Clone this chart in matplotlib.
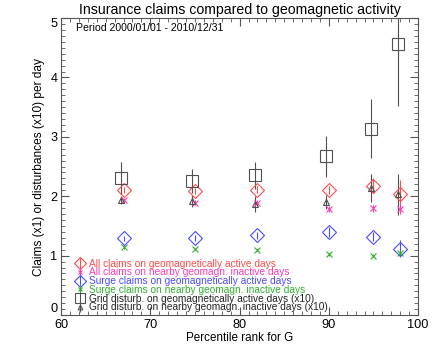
import matplotlib
matplotlib.use('Agg')
import matplotlib.pyplot as plt
from matplotlib.ticker import MultipleLocator

plt.rcParams['font.family'] = ['Liberation Sans', 'DejaVu Sans']

# percentile positions
x_claims = [67, 75, 82, 90, 95, 98]
x_grid = [66.7, 74.7, 81.7, 89.7, 94.7, 97.7]

# all claims, active / inactive days
all_act = [2.11, 2.09, 2.11, 2.11, 2.18, 2.03]
all_act_err = [0.05, 0.05, 0.06, 0.07, 0.13, 0.25]
all_inact = [1.93, 1.89, 1.88, 1.78, 1.80, 1.79]
all_inact_err = [0.04, 0.04, 0.05, 0.05, 0.06, 0.09]

# surge claims
surge_act = [1.29, 1.30, 1.34, 1.40, 1.32, 1.12]
surge_act_err = [0.04, 0.05, 0.06, 0.08, 0.08, 0.15]
surge_inact = [1.14, 1.11, 1.10, 1.02, 1.00, 1.05]
surge_inact_err = [0.02, 0.02, 0.02, 0.02, 0.03, 0.05]

# grid disturbances (x10)
grid_act = [2.30, 2.26, 2.35, 2.67, 3.14, 4.57]
grid_act_err = [0.27, 0.20, 0.22, 0.35, 0.50, 1.05]
grid_inact = [1.94, 1.92, 1.87, 1.90, 2.14, 2.03]
grid_inact_err = [0.07, 0.10, 0.13, 0.12, 0.24, 0.35]

labels = ['All claims on geomagnetically active days',
          'All claims on nearby geomagn. inactive days',
          'Surge claims on geomagnetically active days',
          'Surge claims on nearby geomagn. inactive days',
          'Grid disturb. on geomagnetically active days (x10)',
          'Grid disturb. on nearby geomagn. inactive days (x10)']

c_red = '#ff4a4a'
c_pink = '#ff3cb4'
c_blue = '#4b4bff'
c_green = '#30b030'
c_grid = '#505050'

fig = plt.figure(figsize=(4.36, 3.54), dpi=100)
ax = fig.add_axes([0.14, 0.11, 0.819, 0.839])

kw = dict(linestyle='none', elinewidth=0.8, capsize=0, markerfacecolor='none', markeredgewidth=0.8)
ax.errorbar(x_claims, all_act, yerr=all_act_err, fmt='D', ms=7.5, color=c_red, label=labels[0], **kw)
ax.errorbar(x_claims, all_inact, yerr=all_inact_err, fmt='x', ms=4.5, color=c_pink, label=labels[1], **kw)
ax.errorbar(x_claims, surge_act, yerr=surge_act_err, fmt='D', ms=7.5, color=c_blue, label=labels[2], **kw)
ax.errorbar(x_claims, surge_inact, yerr=surge_inact_err, fmt='x', ms=4.5, color=c_green, label=labels[3], **kw)
ax.errorbar(x_grid, grid_act, yerr=grid_act_err, fmt='s', ms=9, color=c_grid, label=labels[4], **kw)
ax.errorbar(x_grid, grid_inact, yerr=grid_inact_err, fmt='^', ms=4.5, color=c_grid, label=labels[5], **kw)

ax.set_xlim(60, 100)
ax.set_ylim(0, 5)
ax.xaxis.set_major_locator(MultipleLocator(10))
ax.xaxis.set_minor_locator(MultipleLocator(1))
ax.yaxis.set_major_locator(MultipleLocator(1))
ax.yaxis.set_minor_locator(MultipleLocator(0.1))
ax.tick_params(which='both', direction='in', top=True, right=True, color='#555555', labelsize=9.2, pad=2.5)
ax.tick_params(which='major', length=6)
ax.tick_params(which='minor', length=3)
for s in ax.spines.values():
    s.set_color('#555555')
    s.set_linewidth(0.8)

ax.set_title('Insurance claims compared to geomagnetic activity', fontsize=10.2, pad=3)
ax.set_xlabel('Percentile rank for G', fontsize=8.4, labelpad=1)
ax.set_ylabel('Claims (x1) or disturbances (x10) per day', fontsize=8.6, labelpad=4)
ax.text(0.042, 0.985, 'Period 2000/01/01 - 2010/12/31', transform=ax.transAxes,
        fontsize=7.6, va='top', ha='left')

leg = ax.legend(loc='lower left', bbox_to_anchor=(0.02, -0.015), frameon=False, fontsize=7.3,
                handlelength=0.9, handletextpad=0.5, labelspacing=-0.12, borderpad=0.2,
                markerscale=0.75)
text_colors = [c_red, c_pink, c_blue, c_green, '#222222', '#222222']
for t, c in zip(leg.get_texts(), text_colors):
    t.set_color(c)

# IDL-style: end labels of the y axis kept inside the axis range
fig.canvas.draw()
for tick in ax.yaxis.get_major_ticks():
    if abs(tick.get_loc() - 0) < 1e-9:
        tick.label1.set_va('bottom')
    elif abs(tick.get_loc() - 5) < 1e-9:
        tick.label1.set_va('top')

fig.savefig('out.png', dpi=100)
